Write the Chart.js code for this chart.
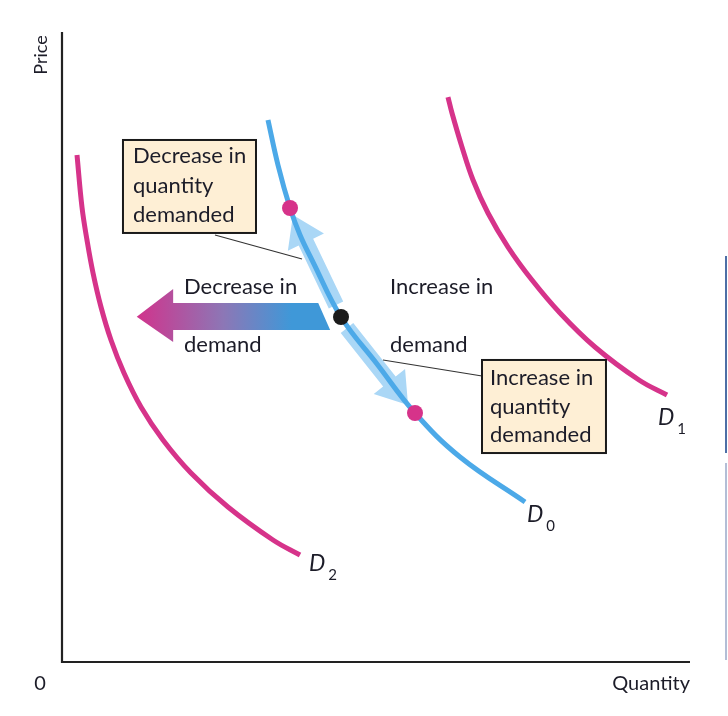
<!DOCTYPE html>
<html><head><meta charset="utf-8">
<script src="https://cdn.jsdelivr.net/npm/chart.js@4/dist/chart.umd.min.js"></script>
<style>html,body{margin:0;padding:0;background:#fff}#wrap{width:728px;height:716px;position:relative}</style>
</head><body><div id="wrap"><canvas id="c" width="728" height="716"></canvas></div>
<script>
// ---- data (quantity, price) ----
const D0_Q = [3.280, 3.439, 3.631, 3.790, 3.997, 4.443, 5.016, 5.621, 6.338, 7.373];
const D0_P = [8.603, 7.889, 7.206, 6.778, 6.349, 5.476, 4.730, 3.952, 3.254, 2.540];
const D1_Q = [6.146, 6.210, 6.369, 6.545, 6.783, 7.102, 7.484, 7.930, 8.487, 9.188, 9.634];
const D1_P = [8.968, 8.714, 8.175, 7.651, 7.127, 6.587, 6.063, 5.540, 5.000, 4.476, 4.238];
const D2_Q = [0.239, 0.318, 0.398, 0.494, 0.621, 0.780, 0.987, 1.258, 1.608, 2.054, 2.643, 3.360, 3.790];
const D2_P = [8.048, 7.222, 6.698, 6.175, 5.635, 5.111, 4.587, 4.048, 3.524, 3.000, 2.460, 1.937, 1.698];
const QD_Q = [3.631, 5.621];   // quantity-demanded change points
const QD_P = [7.206, 3.952];
const EQ_Q = [4.443];          // starting point
const EQ_P = [5.476];
const CURVE_LABELS = ['D', 'D', 'D'];
const CURVE_SUBS = ['0', '1', '2'];
const AXIS_TITLES = ['Quantity', 'Price'];

const pts = (xs, ys) => xs.map((x, i) => ({x, y: ys[i]}));

const PINK = '#D6338A', BLUE = '#4CA9E8', LIGHT = '#AAD7F6', INK = '#1c1c28', BOXFILL = '#FEEFD5';
const FONT = 'Lato, "Open Sans", sans-serif';

// annotation geometry in data units
const ANN = {
  box1: {x0: 0.971, x1: 3.089, yTop: 8.286, yBot: 6.810, tx: 1.131, lines: ['Decrease in', 'quantity', 'demanded'], base: [7.921, 7.444, 6.984]},
  lead1: [[2.436, 6.778], [3.822, 6.397]],
  box2: {x0: 6.688, x1: 8.662, yTop: 4.794, yBot: 3.317, tx: 6.815, lines: ['Increase in', 'quantity', 'demanded'], base: [4.397, 3.937, 3.492]},
  lead2: [[5.111, 4.794], [6.688, 4.540]],
  upArrow: [[4.363, 5.667], [3.678, 7.095]],
  downArrow: [[4.538, 5.302], [5.510, 4.079]],
  shift: {tipX: 1.19, tipY: 5.48, headX: 1.77, headTop: 5.92, headBot: 5.08, shaftTop: 5.70, shaftBot: 5.27, endTopX: 4.08, endBotX: 4.27},
  shiftText: [{x: 1.943, t: 'Decrease in', y: 5.841}, {x: 1.943, t: 'demand', y: 4.921}, {x: 5.223, t: 'Increase in', y: 5.841}, {x: 5.223, t: 'demand', y: 4.921}],
  dLabels: [{x: 7.404, y: 2.222}, {x: 9.490, y: 3.762}, {x: 3.933, y: 1.444}]
};

const annot = {
  id: 'annot',
  beforeDatasetsDraw(chart) {
    const ctx = chart.ctx, xs = chart.scales.x, ys = chart.scales.y;
    const X = v => xs.getPixelForValue(v), Y = v => ys.getPixelForValue(v);
    const ca = chart.chartArea;
    ctx.save();
    // axes
    ctx.strokeStyle = '#222'; ctx.lineWidth = 2.2;
    ctx.beginPath();
    ctx.moveTo(ca.left, ca.top); ctx.lineTo(ca.left, ca.bottom); ctx.lineTo(ca.right, ca.bottom);
    ctx.stroke();
    // light arrows along D0
    function lightArrow(a) {
      const sx = X(a[0][0]), sy = Y(a[0][1]), tx = X(a[1][0]), ty = Y(a[1][1]);
      const dx = tx - sx, dy = ty - sy, L = Math.hypot(dx, dy), ux = dx / L, uy = dy / L;
      const px = -uy, py = ux, hl = 30, hw = 20, sw = 8;
      const bx = tx - ux * hl, by = ty - uy * hl;
      ctx.fillStyle = LIGHT;
      ctx.beginPath();
      ctx.moveTo(sx + px * sw, sy + py * sw);
      ctx.lineTo(bx + px * sw, by + py * sw);
      ctx.lineTo(bx + px * hw, by + py * hw);
      ctx.lineTo(tx, ty);
      ctx.lineTo(bx - px * hw, by - py * hw);
      ctx.lineTo(bx - px * sw, by - py * sw);
      ctx.lineTo(sx - px * sw, sy - py * sw);
      ctx.closePath(); ctx.fill();
    }
    lightArrow(ANN.upArrow); lightArrow(ANN.downArrow);
    // leader lines
    ctx.strokeStyle = '#333'; ctx.lineWidth = 1.2;
    [ANN.lead1, ANN.lead2].forEach(l => {
      ctx.beginPath(); ctx.moveTo(X(l[0][0]), Y(l[0][1])); ctx.lineTo(X(l[1][0]), Y(l[1][1])); ctx.stroke();
    });
    // gradient shift arrow
    const s = ANN.shift;
    const g = ctx.createLinearGradient(X(s.tipX), 0, X(s.endBotX), 0);
    g.addColorStop(0, '#D1338C'); g.addColorStop(0.45, '#8C77B6'); g.addColorStop(0.8, '#3F98D8'); g.addColorStop(1, '#3F98D8');
    ctx.fillStyle = g;
    ctx.beginPath();
    ctx.moveTo(X(s.tipX), Y(s.tipY));
    ctx.lineTo(X(s.headX), Y(s.headTop));
    ctx.lineTo(X(s.headX), Y(s.shaftTop));
    ctx.lineTo(X(s.endTopX), Y(s.shaftTop));
    ctx.lineTo(X(s.endBotX), Y(s.shaftBot));
    ctx.lineTo(X(s.headX), Y(s.shaftBot));
    ctx.lineTo(X(s.headX), Y(s.headBot));
    ctx.closePath(); ctx.fill();
    ctx.restore();
  },
  afterDatasetsDraw(chart) {
    const ctx = chart.ctx, xs = chart.scales.x, ys = chart.scales.y;
    const X = v => xs.getPixelForValue(v), Y = v => ys.getPixelForValue(v);
    const ca = chart.chartArea;
    ctx.save();
    // boxes
    [ANN.box1, ANN.box2].forEach(b => {
      ctx.fillStyle = BOXFILL; ctx.strokeStyle = '#1a1a1a'; ctx.lineWidth = 2;
      ctx.fillRect(X(b.x0), Y(b.yTop), X(b.x1) - X(b.x0), Y(b.yBot) - Y(b.yTop));
      ctx.strokeRect(X(b.x0), Y(b.yTop), X(b.x1) - X(b.x0), Y(b.yBot) - Y(b.yTop));
      ctx.fillStyle = INK; ctx.font = '22px ' + FONT; ctx.textAlign = 'left'; ctx.textBaseline = 'alphabetic';
      b.lines.forEach((t, i) => ctx.fillText(t, X(b.tx), Y(b.base[i])));
    });
    // shift labels
    ctx.fillStyle = INK; ctx.font = '22px ' + FONT;
    ANN.shiftText.forEach(o => ctx.fillText(o.t, X(o.x), Y(o.y)));
    // curve labels
    ANN.dLabels.forEach((o, i) => {
      ctx.font = 'italic 23px ' + FONT; ctx.fillStyle = INK;
      ctx.fillText(CURVE_LABELS[i], X(o.x), Y(o.y));
      const w = ctx.measureText(CURVE_LABELS[i]).width;
      ctx.font = '15px ' + FONT;
      ctx.fillText(CURVE_SUBS[i], X(o.x) + w + 3, Y(o.y) + 9);
    });
    // axis titles
    ctx.font = '20px ' + FONT; ctx.fillStyle = INK;
    ctx.textAlign = 'right';
    ctx.fillText(AXIS_TITLES[0], ca.right, ca.bottom + 28);
    ctx.textAlign = 'center';
    ctx.fillText('0', ca.left - 22, ca.bottom + 28);
    ctx.save();
    ctx.translate(ca.left - 21, ca.top + 23);
    ctx.rotate(-Math.PI / 2);
    ctx.textBaseline = 'middle';
    ctx.font = '18px ' + FONT;
    ctx.fillText(AXIS_TITLES[1], 0, 0);
    ctx.restore();
    // page-edge remnants at right
    ctx.strokeStyle = '#4D6FA6'; ctx.lineWidth = 2;
    ctx.beginPath(); ctx.moveTo(726, 256); ctx.lineTo(726, 453); ctx.stroke();
    ctx.strokeStyle = '#9AA8C8'; ctx.lineWidth = 1.5;
    ctx.beginPath(); ctx.moveTo(726, 463); ctx.lineTo(726, 660); ctx.stroke();
    ctx.restore();
  }
};

const curve = (label, q, p, color, order) => ({label, data: pts(q, p), order, showLine: true, borderColor: color, borderWidth: 5, pointRadius: 0, tension: 0.4, borderCapStyle: 'butt'});

new Chart(document.getElementById('c'), {
  type: 'scatter',
  data: {
    datasets: [
      {label: 'EQ', data: pts(EQ_Q, EQ_P), order: 0, pointRadius: 8, pointBackgroundColor: '#1b1b1b', pointBorderWidth: 0, showLine: false},
      {label: 'QD', data: pts(QD_Q, QD_P), order: 1, pointRadius: 8, pointBackgroundColor: PINK, pointBorderWidth: 0, showLine: false},
      curve('D0', D0_Q, D0_P, BLUE, 2),
      curve('D1', D1_Q, D1_P, PINK, 3),
      curve('D2', D2_Q, D2_P, PINK, 3)
    ]
  },
  options: {
    responsive: false, animation: false, devicePixelRatio: 1,
    layout: {padding: {left: 62, top: 32, right: 38, bottom: 54}},
    scales: {
      x: {type: 'linear', min: 0, max: 10, display: false},
      y: {type: 'linear', min: 0, max: 10, display: false}
    },
    plugins: {legend: {display: false}, tooltip: {enabled: false}},
    events: []
  },
  plugins: [annot]
});
</script>
</body></html>
